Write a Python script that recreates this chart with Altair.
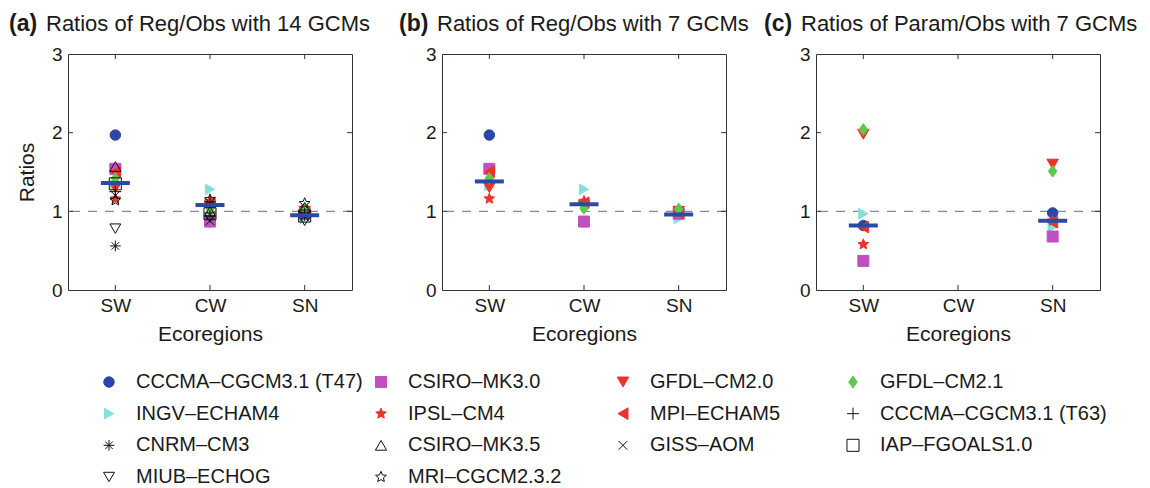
import math
import altair as alt
import pandas as pd

# ---------------------------------------------------------------- data
regions = ["SW", "CW", "SN"]

models = [
    "CCCMA–CGCM3.1 (T47)", "INGV–ECHAM4", "CNRM–CM3", "MIUB–ECHOG",
    "CSIRO–MK3.0", "IPSL–CM4", "CSIRO–MK3.5", "MRI–CGCM2.3.2",
    "GFDL–CM2.0", "MPI–ECHAM5", "GISS–AOM",
    "GFDL–CM2.1", "CCCMA–CGCM3.1 (T63)", "IAP–FGOALS1.0",
]

# regional-model / observed ratios, all 14 GCMs (order as in `models`)
reg_sw = [1.97, 1.33, 0.56, 0.78, 1.54, 1.16, 1.57, 1.14, 1.30, 1.50, 1.20, 1.42, 1.25, 1.35]
reg_cw = [0.87, 1.28, 0.95, 0.92, 0.87, 1.13, 1.00, 1.15, 1.07, 1.11, 0.88, 1.04, 1.12, 0.97]
reg_sn = [0.96, 0.91, 0.95, 0.88, 0.97, 0.99, 1.05, 1.10, 1.00, 0.98, 0.93, 1.03, 0.97, 0.94]

# the seven GCMs that also have parameterised runs
seven = ["CCCMA–CGCM3.1 (T47)", "INGV–ECHAM4", "CSIRO–MK3.0", "IPSL–CM4",
         "GFDL–CM2.0", "MPI–ECHAM5", "GFDL–CM2.1"]

# parameterised / observed ratios for the seven GCMs (order as in `seven`)
param_sw = [0.82, 0.97, 0.37, 0.58, 1.98, 0.80, 2.04]
param_sn = [0.98, 0.80, 0.68, 0.88, 1.60, 0.86, 1.51]

# ensemble central values drawn as horizontal bars
center_a = [1.36, 1.08, 0.95]
center_b = [1.38, 1.09, 0.96]
center_c_regions = ["SW", "SN"]
center_c = [0.82, 0.88]

# legend layout: one list per legend column
legend_columns = [
    ["CCCMA–CGCM3.1 (T47)", "INGV–ECHAM4", "CNRM–CM3", "MIUB–ECHOG"],
    ["CSIRO–MK3.0", "IPSL–CM4", "CSIRO–MK3.5", "MRI–CGCM2.3.2"],
    ["GFDL–CM2.0", "MPI–ECHAM5", "GISS–AOM"],
    ["GFDL–CM2.1", "CCCMA–CGCM3.1 (T63)", "IAP–FGOALS1.0"],
]

# ---------------------------------------------------------------- marker styles
def star_path(inner=0.45):
    pts = []
    for k in range(10):
        r = 1.0 if k % 2 == 0 else inner
        a = -math.pi / 2 + k * math.pi / 5
        pts.append(f"{r * math.cos(a):.3f},{r * math.sin(a):.3f}")
    return "M" + "L".join(pts) + "Z"

STAR = star_path()
ASTERISK = "M-1,0L1,0M0,-1L0,1M-0.7,-0.7L0.7,0.7M-0.7,0.7L0.7,-0.7"
XMARK = "M-0.75,-0.75L0.75,0.75M-0.75,0.75L0.75,-0.75"
PLUS = "M-1,0L1,0M0,-1L0,1"
DIAMOND = "M0,-1L0.72,0L0,1L-0.72,0Z"

BLUE = "#2b46a6"
CYAN = "#84e0d9"
MAGENTA = "#c04fc0"
RED = "#e8342b"
GREEN = "#5dc94d"
BLACK = "#111111"
NONE = "transparent"

shapes = ["circle", "triangle-right", ASTERISK, "triangle-down",
          "square", STAR, "triangle-up", STAR,
          "triangle-down", "triangle-left", XMARK,
          DIAMOND, PLUS, "square"]
fills = [BLUE, CYAN, NONE, NONE,
         MAGENTA, RED, NONE, NONE,
         RED, RED, NONE,
         GREEN, NONE, NONE]
strokes = [BLUE, CYAN, BLACK, BLACK,
           MAGENTA, RED, BLACK, BLACK,
           RED, RED, BLACK,
           GREEN, BLACK, BLACK]
sizes = [110, 145, 95, 130,
         80, 200, 130, 190,
         145, 145, 80,
         175, 100, 80]

shape_scale = alt.Scale(domain=models, range=shapes)
fill_scale = alt.Scale(domain=models, range=fills)
stroke_scale = alt.Scale(domain=models, range=strokes)
size_scale = alt.Scale(domain=models, range=sizes)
is_open = {m: f == NONE for m, f in zip(models, fills)}

# ---------------------------------------------------------------- frames
def point_frame(names, columns):
    rows = []
    for reg, vals in columns:
        for name, v in zip(names, vals):
            rows.append({"region": reg, "model": name, "ratio": v,
                         "layer": 1 if is_open[name] else 0})
    df = pd.DataFrame(rows)
    return df.sort_values("layer", kind="stable").reset_index(drop=True)


sub_idx = [models.index(m) for m in seven]
pts_a = point_frame(models, [("SW", reg_sw), ("CW", reg_cw), ("SN", reg_sn)])
pts_b = point_frame(seven, [("SW", [reg_sw[i] for i in sub_idx]),
                            ("CW", [reg_cw[i] for i in sub_idx]),
                            ("SN", [reg_sn[i] for i in sub_idx])])
pts_c = point_frame(seven, [("SW", param_sw), ("SN", param_sn)])

ctr_a = pd.DataFrame({"region": regions, "ratio": center_a})
ctr_b = pd.DataFrame({"region": regions, "ratio": center_b})
ctr_c = pd.DataFrame({"region": center_c_regions, "ratio": center_c})

# ---------------------------------------------------------------- panels
W, H = 284, 236
FONT = "Liberation Sans"
INK = "#1a1a1a"


def x_enc():
    return alt.X(
        "region:N",
        scale=alt.Scale(type="point", domain=regions, padding=0.5),
        axis=alt.Axis(title="Ecoregions", labelAngle=0, ticks=False, domain=False,
                      grid=False, labelFontSize=19, titleFontSize=21,
                      labelPadding=6, titlePadding=8, titleFontWeight="normal"),
    )


def y_enc(with_title):
    return alt.Y(
        "ratio:Q",
        scale=alt.Scale(domain=[0, 3], nice=False, zero=False),
        axis=alt.Axis(values=[0, 1, 2, 3], format="d", ticks=False, domain=False,
                      grid=False, labelFontSize=19, labelPadding=6,
                      titleFontSize=21, titlePadding=14, titleFontWeight="normal"),
        title="Ratios" if with_title else None,
    )


def panel(pts, ctr, letter, heading, dx_letter, dx_heading, with_title):
    y = y_enc(with_title)
    x = x_enc()

    ref = alt.Chart(pd.DataFrame({"ratio": [1.0]})).mark_rule(
        color="#8a8a8a", strokeWidth=1.4, strokeDash=[9, 8]
    ).encode(y=y)

    marks = alt.Chart(pts).mark_point(opacity=1, strokeWidth=1).encode(
        x=x, y=y,
        shape=alt.Shape("model:N", scale=shape_scale, legend=None),
        fill=alt.Fill("model:N", scale=fill_scale, legend=None),
        stroke=alt.Stroke("model:N", scale=stroke_scale, legend=None),
        size=alt.Size("model:N", scale=size_scale, legend=None),
    )

    bars = alt.Chart(ctr).mark_tick(color="#2a4aa6", size=29, thickness=4, opacity=1).encode(
        x=x, y=y
    )

    reg_df = pd.DataFrame({"region": regions})
    xt_bottom = alt.Chart(reg_df).mark_rule(color="#333", strokeWidth=1).encode(
        x=x, y=alt.value(H), y2=alt.value(H - 5))
    xt_top = alt.Chart(reg_df).mark_rule(color="#333", strokeWidth=1).encode(
        x=x, y=alt.value(0), y2=alt.value(5))
    lev_df = pd.DataFrame({"ratio": [1.0, 2.0]})
    yt_left = alt.Chart(lev_df).mark_rule(color="#333", strokeWidth=1).encode(
        y=y, x=alt.value(0), x2=alt.value(5))
    yt_right = alt.Chart(lev_df).mark_rule(color="#333", strokeWidth=1).encode(
        y=y, x=alt.value(W - 5), x2=alt.value(W))

    tag = alt.Chart(pd.DataFrame({"t": [letter]})).mark_text(
        align="left", baseline="alphabetic", fontSize=23, fontWeight="bold", color=INK
    ).encode(text="t:N", x=alt.value(dx_letter), y=alt.value(-23))
    head = alt.Chart(pd.DataFrame({"t": [heading]})).mark_text(
        align="left", baseline="alphabetic", fontSize=22, color=INK
    ).encode(text="t:N", x=alt.value(dx_heading), y=alt.value(-23))

    return alt.layer(ref, marks, bars, xt_bottom, xt_top, yt_left, yt_right, tag, head).properties(
        width=W, height=H
    )


pa = panel(pts_a, ctr_a, "(a)", "Ratios of Reg/Obs with 14 GCMs", -59, -22, True)
pb = panel(pts_b, ctr_b, "(b)", "Ratios of Reg/Obs with 7 GCMs", -43, -5, False)
pc = panel(pts_c, ctr_c, "(c)", "Ratios of Param/Obs with 7 GCMs", -52, -15, False)

# ---------------------------------------------------------------- legend
leg_rows = []
for ci, col in enumerate(legend_columns):
    for ri, name in enumerate(col):
        leg_rows.append({"model": name, "col": ci, "row": ri})
leg_df = pd.DataFrame(leg_rows)

lx = alt.X("col:Q", scale=alt.Scale(domain=[0, 1, 2, 3], range=[41, 313, 555, 785]), axis=None)
ly = alt.Y("row:Q", scale=alt.Scale(domain=[0, 3], range=[8, 103]), axis=None)

leg_marks = alt.Chart(leg_df).mark_point(opacity=1, strokeWidth=1).encode(
    x=lx, y=ly,
    shape=alt.Shape("model:N", scale=shape_scale, legend=None),
    fill=alt.Fill("model:N", scale=fill_scale, legend=None),
    stroke=alt.Stroke("model:N", scale=stroke_scale, legend=None),
    size=alt.Size("model:N", scale=size_scale, legend=None),
)
leg_text = alt.Chart(leg_df).mark_text(
    align="left", baseline="middle", dx=27, fontSize=20, color=INK
).encode(x=lx, y=ly, text="model:N")

legend = alt.layer(leg_marks, leg_text).properties(
    width=1030, height=110, view=alt.ViewBackground(stroke="transparent")
)

top = alt.hconcat(pa, pb, pc, spacing=90, bounds="flush")
chart = alt.vconcat(top, legend, spacing=26).properties(
    padding={"left": 8, "top": 12, "right": 0, "bottom": 0}
).configure(font=FONT).configure_view(
    stroke="#333", strokeWidth=1
).configure_axis(labelColor=INK, titleColor=INK, labelFont=FONT, titleFont=FONT)

chart.save("out.html", embed_options={"renderer": "svg", "actions": False})
